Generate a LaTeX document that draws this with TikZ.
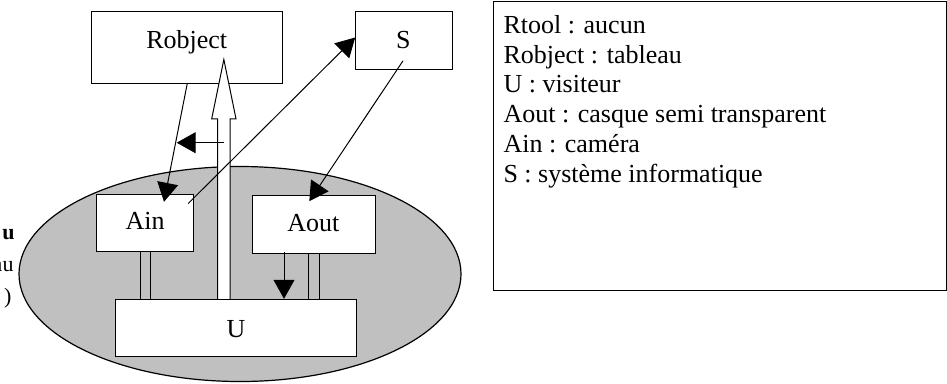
\documentclass[tikz,border=0pt]{standalone}
\usepackage{fontspec}
\setmainfont{Liberation Serif}
\usetikzlibrary{arrows.meta,calc}
\definecolor{ellgray}{HTML}{C0C0C0}
\begin{document}
\begin{tikzpicture}[x=1pt,y=-1pt, line width=1pt,
  box/.style={draw, fill=white, line width=1pt, inner sep=0pt},
  lbl/.style={font=\fontsize{26}{30}\selectfont, inner sep=0pt, anchor=base},
  leg/.style={font=\fontsize{26}{30}\selectfont, inner sep=0pt, anchor=base west},
  frag/.style={font=\fontsize{22}{26}\selectfont, inner sep=0pt, anchor=base east},
  tip/.style={-{Triangle[length=19pt,width=21pt]}}]
\useasboundingbox (0,0) rectangle (947,383);
% ellipse
\filldraw[fill=ellgray, draw=black, line width=1.2pt] (240,274) ellipse [x radius=221, y radius=107.5];
% boxes
\node[box, minimum width=191pt, minimum height=71.6pt] (robj) at (187.2,47.5) {};
\node[box, minimum width=96.6pt, minimum height=57.6pt] (s) at (404,40.5) {};
\node[box, minimum width=96.6pt, minimum height=57.4pt] (ain) at (145,223) {};
\node[box, minimum width=123pt, minimum height=57.6pt] (aout) at (313.8,224.5) {};
% double links
\draw ([xshift=-5pt]ain.south) -- ([xshift=-5pt]ain.south |- 0,299.3);
\draw ([xshift=5.7pt]ain.south) -- ([xshift=5.7pt]ain.south |- 0,299.3);
\draw ([xshift=-5.8pt]aout.south) -- ([xshift=-5.8pt]aout.south |- 0,302);
\draw ([xshift=5.2pt]aout.south) -- ([xshift=5.2pt]aout.south |- 0,302);
\node[box, minimum width=240.3pt, minimum height=57.4pt] (u) at (235.85,328) {};
% labels in boxes
\node[lbl] (robjt) at (186.7,48) {Robject};
\node[lbl] (st) at (403.3,48) {S};
\node[lbl] (aint) at (145,229.5) {Ain};
\node[lbl] (aoutt) at (313.3,231.5) {Aout};
\node[lbl] (ut) at (236,337) {U};
% hollow arrow from U to Robject
\coordinate (ha) at ([xshift=-12pt]u.north);
\filldraw[fill=white, draw=black, line width=1pt]
  ($(ha)+(-6.15,0)$) -- ($(ha)+(-6.15,-180)$) -- ($(ha)+(-12.15,-180)$) --
  ($(ha)+(0,-239.3)$) -- ($(ha)+(12.15,-180)$) -- ($(ha)+(6.15,-180)$) --
  ($(ha)+(6.15,0)$);
% connectors
\draw[tip] (robj.south) -- ([xshift=19pt,yshift=-8pt]ain.north);
\draw[tip] ([xshift=-5.6pt,yshift=-9.7pt]ain.north east) -- ([yshift=3pt]s.west);
\draw[tip] ([xshift=-1pt,yshift=9pt]s.south) -- ([xshift=-4.5pt,yshift=-6pt]aout.north);
\coordinate (sa1) at (224,142.7);
\coordinate (sa2) at (176.7,142.7);
\draw[tip] (sa1) -- (sa2);
\draw[tip] ([xshift=-29.8pt,yshift=1.6pt]aout.south) -- ([xshift=48.15pt]u.north);
% legend box
\node[draw, line width=1pt, minimum width=453pt, minimum height=289pt, inner sep=0pt] (legend) at (719.5,145.5) {};
\node[leg] (l1) at (503,33.3) {Rtool : aucun};
\node[leg] (l2) at (503,63.1) {Robject : tableau};
\node[leg] (l3) at (503,92.9) {U : visiteur};
\node[leg] (l4) at (503,122.7) {Aout : casque semi transparent};
\node[leg] (l5) at (503,152.5) {Ain : caméra};
\node[leg] (l6) at (503,182.3) {S : système informatique};
% clipped fragments at left edge
\node[frag, font=\fontsize{22}{26}\selectfont\bfseries] (f1) at (15,239) {u};
\node[frag] (f2) at (14,271) {au};
\node[frag] (f3) at (12,303) {)};
\end{tikzpicture}
\end{document}
